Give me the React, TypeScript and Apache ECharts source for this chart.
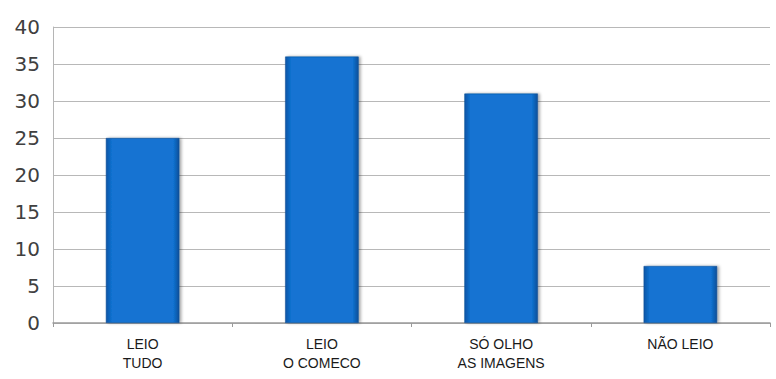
import React, { useEffect, useRef } from "react";
import * as echarts from "echarts";

const categories = ["LEIO\nTUDO", "LEIO\nO COMECO", "SÓ OLHO\nAS IMAGENS", "NÃO LEIO"];
const values = [25, 36, 31, 7.7];
const yTicks = { min: 0, max: 40, interval: 5 };

export default function App() {
  const ref = useRef<HTMLDivElement>(null);
  useEffect(() => {
    if (!ref.current) return;
    const chart = echarts.init(ref.current, null, { renderer: "svg" });
    chart.setOption({
      animation: false,
      backgroundColor: "#ffffff",
      grid: { left: 53, right: 6, top: 27, bottom: 56, containLabel: false },
      xAxis: {
        type: "category",
        data: categories,
        axisLine: { show: true, lineStyle: { color: "#9a9a9a", width: 1.5 } },
        axisTick: { show: true, length: 4, lineStyle: { color: "#9a9a9a" } },
        axisLabel: {
          color: "#1a1a1a",
          fontFamily: "Liberation Sans, Arial, sans-serif",
          fontSize: 14,
          lineHeight: 19,
          margin: 11,
        },
      },
      yAxis: {
        type: "value",
        min: yTicks.min,
        max: yTicks.max,
        interval: yTicks.interval,
        axisLine: { show: true, lineStyle: { color: "#b5b5b5" } },
        axisTick: { show: false },
        splitLine: { show: true, lineStyle: { color: "#b8b8b8", width: 1.2 } },
        axisLabel: {
          color: "#404040",
          fontFamily: "DejaVu Sans, Verdana, sans-serif",
          fontSize: 20,
          margin: 13,
        },
      },
      series: [
        {
          type: "bar",
          data: values,
          barWidth: "41%",
          itemStyle: {
            color: new echarts.graphic.LinearGradient(0, 0, 1, 0, [
              { offset: 0, color: "#0a55a6" },
              { offset: 0.08, color: "#1273d2" },
              { offset: 0.92, color: "#1273d2" },
              { offset: 1, color: "#0a4f9a" },
            ]),
            borderColor: "#0b4c92",
            borderWidth: 0.5,
            shadowColor: "rgba(0,0,0,0.35)",
            shadowBlur: 3,
            shadowOffsetX: 2,
            shadowOffsetY: 0,
          },
        },
      ],
    });
    return () => chart.dispose();
  }, []);
  return <div ref={ref} style={{ width: 776, height: 379, position: "absolute", left: 0, top: 0 }} />;
}
